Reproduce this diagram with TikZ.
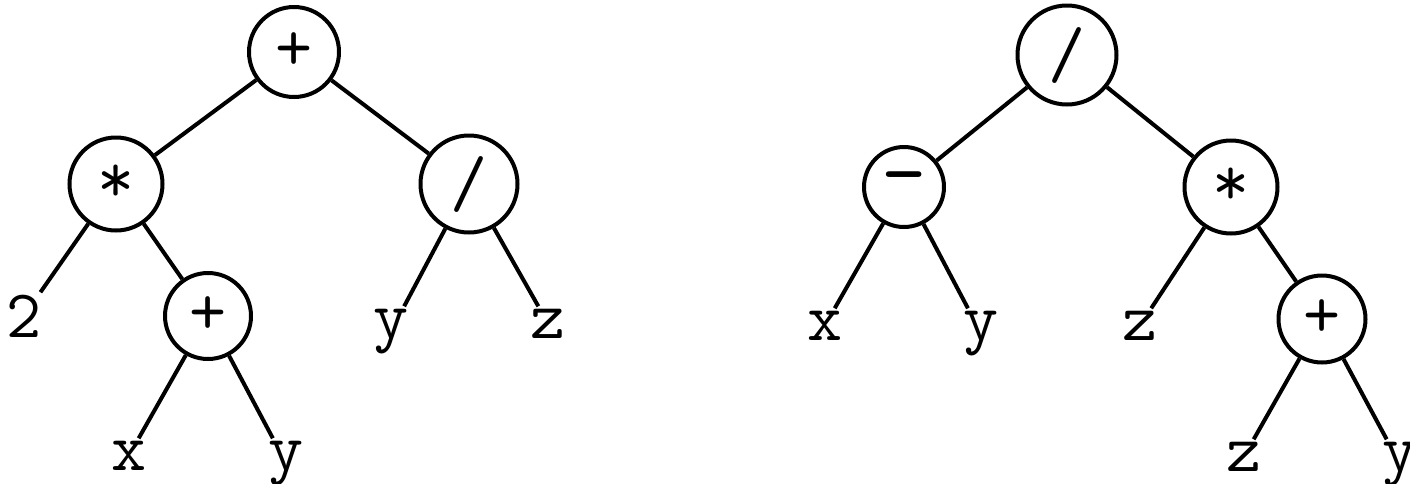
\documentclass[tikz,border=0pt]{standalone}
\usepackage{fontspec}
\begin{document}
\begin{tikzpicture}[x=0.5pt,y=-0.5pt,
  op/.style={circle, draw, line width=2pt, inner sep=0pt, font=\ttfamily\fontsize{36}{36}\selectfont},
  leaf/.style={inner sep=1pt, anchor=base, font=\ttfamily\fontsize{34}{34}\selectfont},
  edge/.style={line width=2pt}]
\useasboundingbox (0,0) rectangle (1410,483);
% left tree
\node[op, minimum size=45pt] (a) at (294,52) {+};
\node[op, minimum size=46.5pt] (b) at (116,184) {*};
\node[op, minimum size=48.5pt] (c) at (469,184) {/};
\node[op, minimum size=43pt] (d) at (208,316) {+};
\node[leaf] (l2) at (24,337) {2};
\node[leaf] (ly1) at (391,338) {y};
\node[leaf] (lz1) at (548,338) {z};
\node[leaf] (lx2) at (129,470) {x};
\node[leaf] (ly2) at (286,470) {y};
\draw[edge] (a) -- (b);
\draw[edge] (a) -- (c);
\draw[edge] (b) -- (l2);
\draw[edge] (b) -- (d);
\draw[edge] (c) -- (ly1);
\draw[edge] (c) -- (lz1);
\draw[edge] (d) -- (lx2);
\draw[edge] (d) -- (ly2);
% right tree
\node[op, minimum size=49.5pt] (e) at (1067,55) {/};
\node[op, minimum size=40pt, font=\ttfamily\fontsize{44}{44}\selectfont] (f) at (904,187) {-};
\node[op, minimum size=46.5pt] (g) at (1231,187) {*};
\node[op, minimum size=43.5pt] (h) at (1322,319) {+};
\node[leaf] (rx1) at (825,340) {x};
\node[leaf] (ry1) at (981,340) {y};
\node[leaf] (rz1) at (1140,340) {z};
\node[leaf] (rz2) at (1244,471) {z};
\node[leaf] (ry2) at (1400,471) {y};
\draw[edge] (e) -- (f);
\draw[edge] (e) -- (g);
\draw[edge] (f) -- (rx1);
\draw[edge] (f) -- (ry1);
\draw[edge] (g) -- (rz1);
\draw[edge] (g) -- (h);
\draw[edge] (h) -- (rz2);
\draw[edge] (h) -- (ry2);
\end{tikzpicture}
\end{document}
